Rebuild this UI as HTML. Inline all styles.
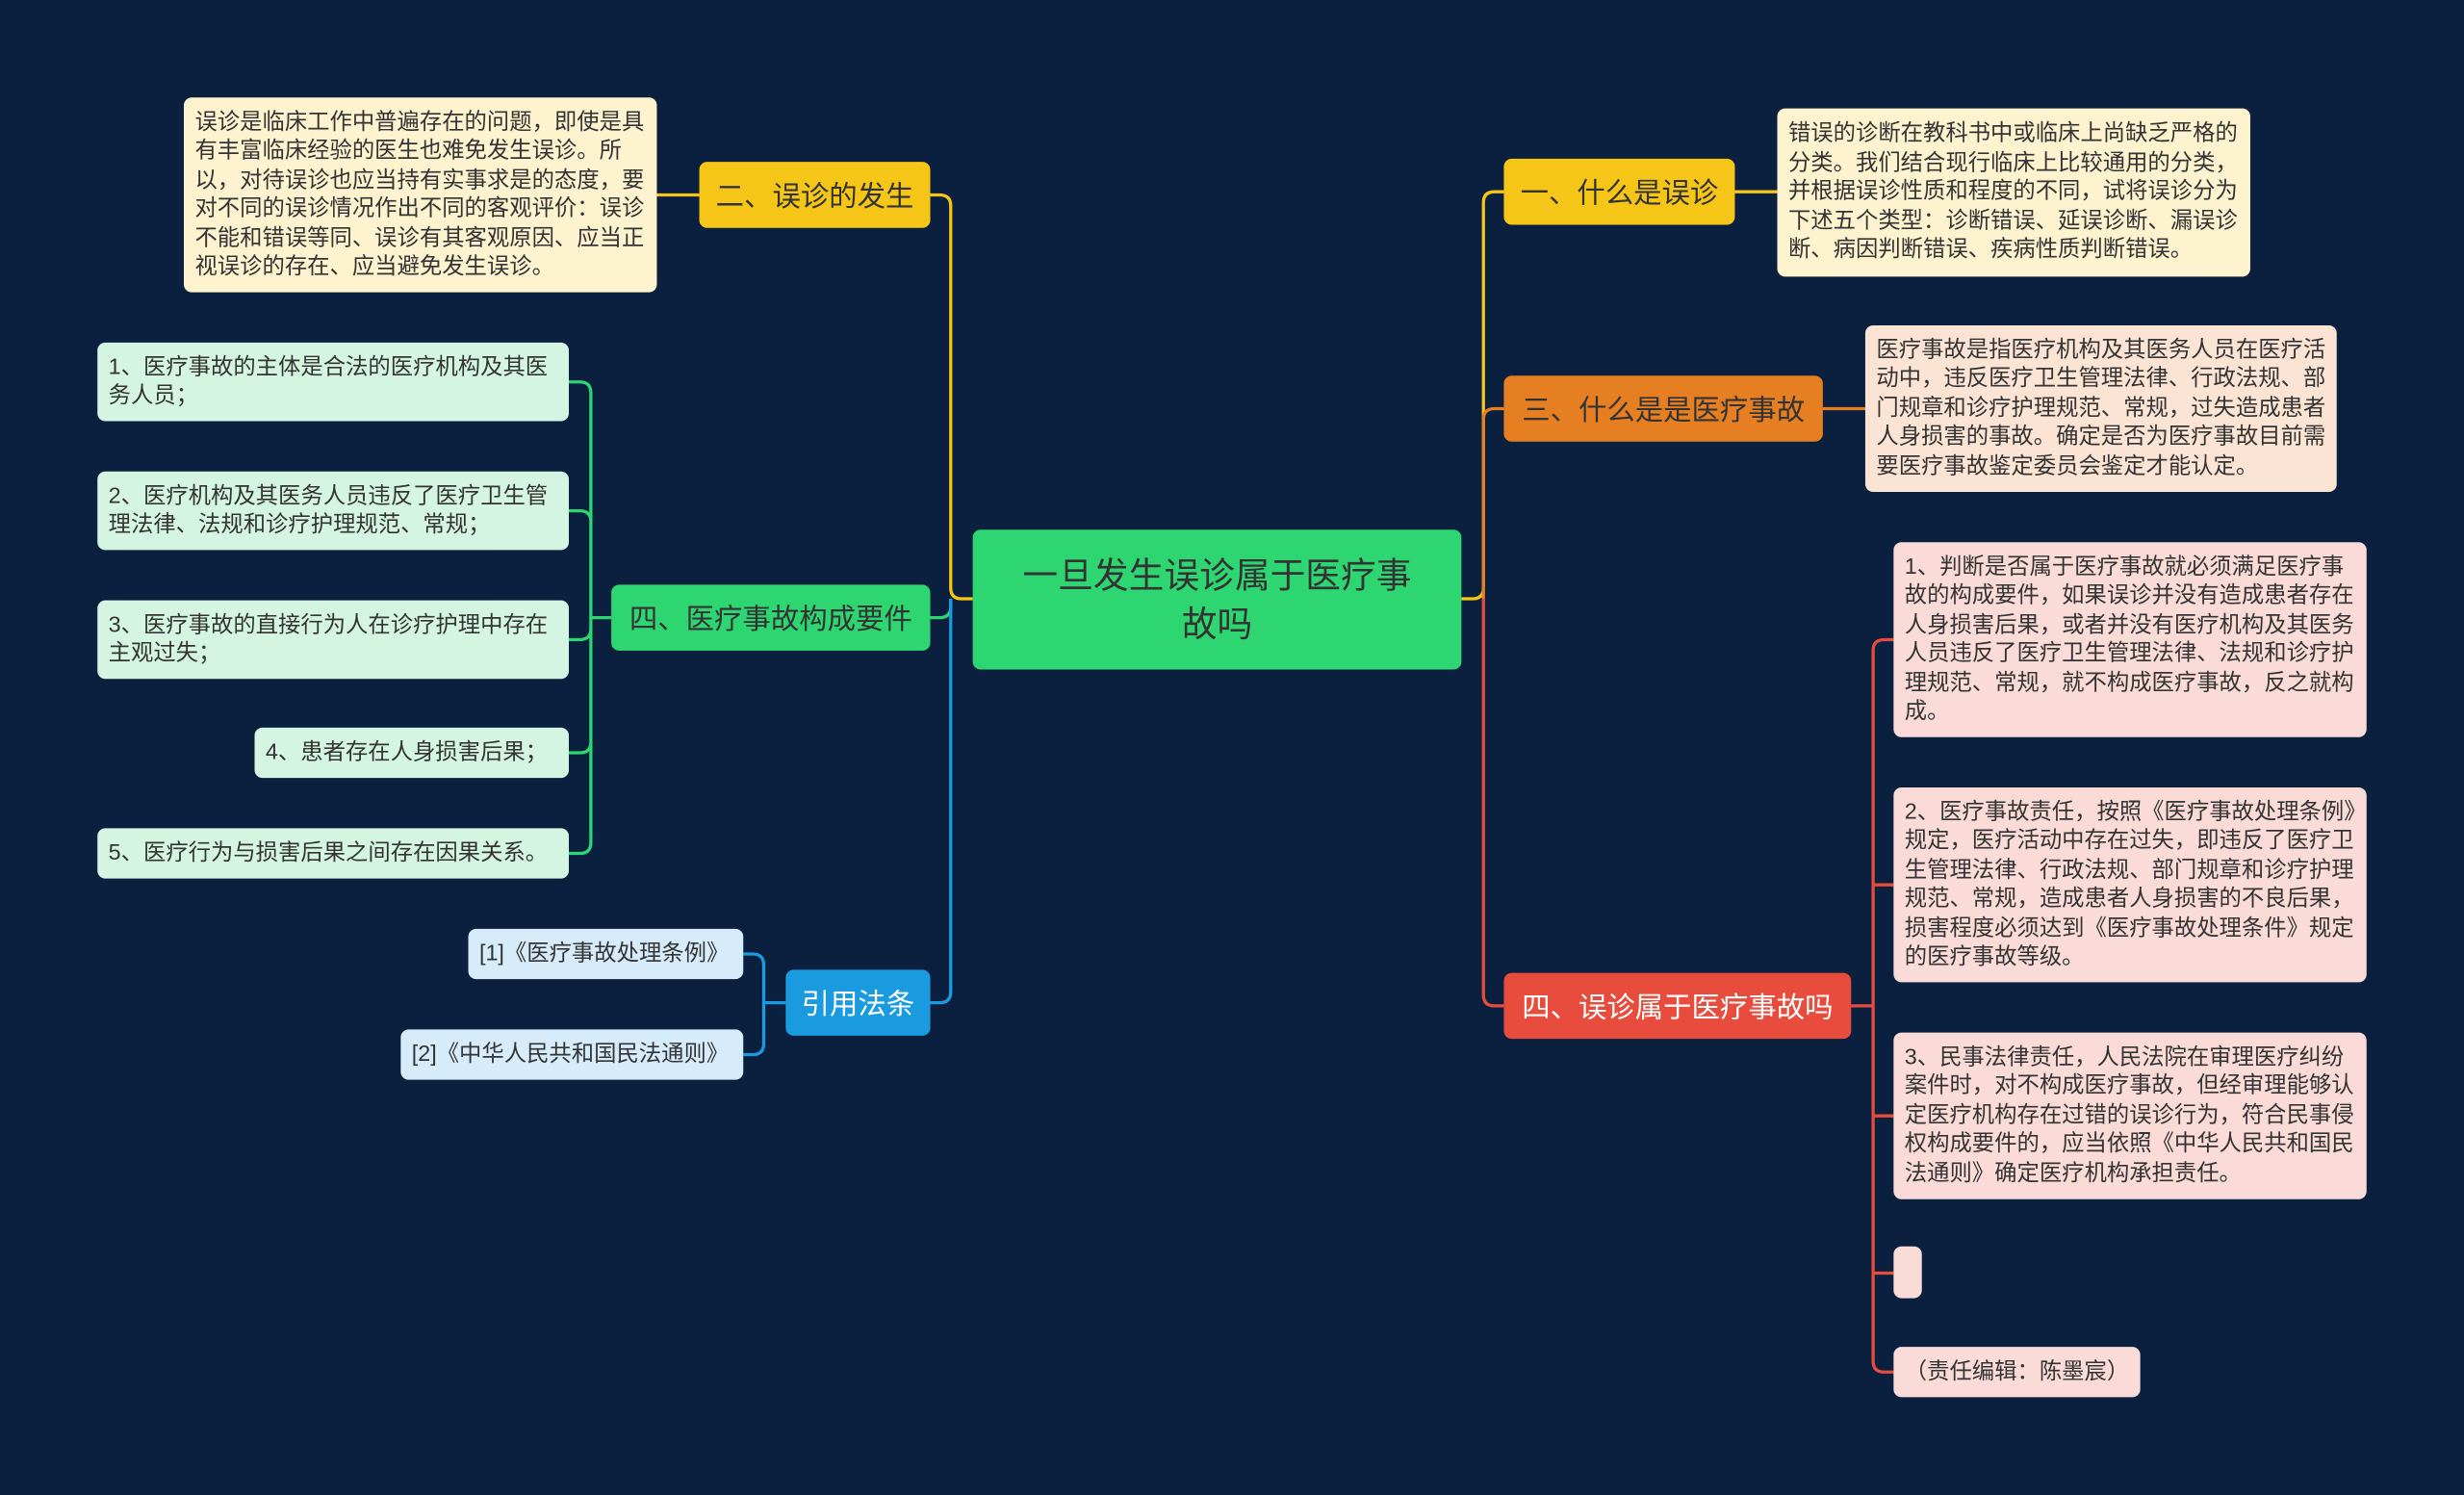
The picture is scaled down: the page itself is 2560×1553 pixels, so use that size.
<!DOCTYPE html>
<html><head><meta charset="utf-8"><style>
html,body{margin:0;padding:0;background:#0b1f3e;width:2560px;height:1552px;overflow:hidden}
#w{position:absolute;left:0;top:0;width:1568px;height:951px;transform:scale(1.63265);transform-origin:0 0;font-family:"Liberation Sans","Noto Sans CJK SC",sans-serif}
.n{position:absolute;box-sizing:border-box;border-radius:5px;display:flex;align-items:center}
.b{font-size:18px;color:#333;justify-content:center;white-space:nowrap}
.l{font-size:14.3px;line-height:18.5px;color:#333;padding:4px 7px;align-items:center}
svg{position:absolute;left:0;top:0}
</style></head><body><div id="w">
<svg width="1568" height="951" fill="none" stroke-width="2">
<path d="M619 381 H612 Q605 381 605 374 V131 Q605 124 598 124 H592" stroke="#f5c518"/>
<path d="M605 381 V386 Q605 393 598 393 H592" stroke="#2ed672"/>
<path d="M605 381 V631 Q605 638 598 638 H592" stroke="#1a9be0"/>
<path d="M445 124 H418" stroke="#f5c518"/>
<path d="M389 393 H376 M362 243 H369 Q376 243 376 250 V536 Q376 543 369 543 H362 M362 325 H369 Q376 325 376 332 M362 407 H369 Q376 407 376 400 M362 479 H369 Q376 479 376 472" stroke="#2ed672"/>
<path d="M500 638 H486 M473 607 H479 Q486 607 486 614 V664 Q486 671 479 671 H473" stroke="#1a9be0"/>
<path d="M930 381 H937 Q944 381 944 374 V129 Q944 122 951 122 H957" stroke="#f5c518"/>
<path d="M944 381 V267 Q944 260 951 260 H957" stroke="#e67e22"/>
<path d="M944 381 V633 Q944 640 951 640 H957" stroke="#e74c3c"/>
<path d="M1104 122 H1131" stroke="#f5c518"/>
<path d="M1160 260 H1187" stroke="#e67e22"/>
<path d="M1178 640 H1192 M1205 407 H1199 Q1192 407 1192 414 V866 Q1192 873 1199 873 H1205 M1205 563 H1192 M1205 710 H1192 M1205 810 H1192" stroke="#e74c3c"/>
</svg>
<div class="n b" style="left:619px;top:337px;width:311px;height:89px;background:#2ed672;font-size:22.5px;white-space:normal;text-align:center;line-height:31px;padding:0 24px">一旦发生误诊属于医疗事故吗</div>
<div class="n b" style="left:445px;top:103px;width:147px;height:42px;background:#f5c518">二、误诊的发生</div>
<div class="n l" style="left:117px;top:62px;width:301px;height:124px;background:#fdf3cf">误诊是临床工作中普遍存在的问题，即使是具有丰富临床经验的医生也难免发生误诊。所以，对待误诊也应当持有实事求是的态度，要对不同的误诊情况作出不同的客观评价：误诊不能和错误等同、误诊有其客观原因、应当正视误诊的存在、应当避免发生误诊。</div>
<div class="n b" style="left:389px;top:372px;width:203px;height:42px;background:#2ed672">四、医疗事故构成要件</div>
<div class="n l" style="left:62px;top:218px;width:300px;height:50px;background:#d5f5e3">1、医疗事故的主体是合法的医疗机构及其医务人员；</div>
<div class="n l" style="left:62px;top:300px;width:300px;height:50px;background:#d5f5e3">2、医疗机构及其医务人员违反了医疗卫生管理法律、法规和诊疗护理规范、常规；</div>
<div class="n l" style="left:62px;top:382px;width:300px;height:50px;background:#d5f5e3">3、医疗事故的直接行为人在诊疗护理中存在主观过失；</div>
<div class="n l" style="left:162px;top:463px;width:200px;height:32px;background:#d5f5e3">4、患者存在人身损害后果；</div>
<div class="n l" style="left:62px;top:527px;width:300px;height:32px;background:#d5f5e3">5、医疗行为与损害后果之间存在因果关系。</div>
<div class="n b" style="left:500px;top:617px;width:92px;height:42px;background:#1a9be0;color:#fff">引用法条</div>
<div class="n l" style="left:298px;top:591px;width:175px;height:32px;background:#d6ecfa">[1]《医疗事故处理条例》</div>
<div class="n l" style="left:255px;top:655px;width:218px;height:32px;background:#d6ecfa">[2]《中华人民共和国民法通则》</div>
<div class="n b" style="left:957px;top:101px;width:147px;height:42px;background:#f5c518">一、什么是误诊</div>
<div class="n l" style="left:1131px;top:69px;width:301px;height:107px;background:#fdf3cf">错误的诊断在教科书中或临床上尚缺乏严格的分类。我们结合现行临床上比较通用的分类，并根据误诊性质和程度的不同，试将误诊分为下述五个类型：诊断错误、延误诊断、漏误诊断、病因判断错误、疾病性质判断错误。</div>
<div class="n b" style="left:957px;top:239px;width:203px;height:42px;background:#e67e22">三、什么是是医疗事故</div>
<div class="n l" style="left:1187px;top:207px;width:300px;height:106px;background:#fce4d4">医疗事故是指医疗机构及其医务人员在医疗活动中，违反医疗卫生管理法律、行政法规、部门规章和诊疗护理规范、常规，过失造成患者人身损害的事故。确定是否为医疗事故目前需要医疗事故鉴定委员会鉴定才能认定。</div>
<div class="n b" style="left:957px;top:619px;width:221px;height:42px;background:#e74c3c;color:#fff">四、误诊属于医疗事故吗</div>
<div class="n l" style="left:1205px;top:345px;width:301px;height:124px;background:#fadbd8">1、判断是否属于医疗事故就必须满足医疗事故的构成要件，如果误诊并没有造成患者存在人身损害后果，或者并没有医疗机构及其医务人员违反了医疗卫生管理法律、法规和诊疗护理规范、常规，就不构成医疗事故，反之就构成。</div>
<div class="n l" style="left:1205px;top:501px;width:301px;height:124px;background:#fadbd8">2、医疗事故责任，按照《医疗事故处理条例》规定，医疗活动中存在过失，即违反了医疗卫生管理法律、行政法规、部门规章和诊疗护理规范、常规，造成患者人身损害的不良后果，损害程度必须达到《医疗事故处理条件》规定的医疗事故等级。</div>
<div class="n l" style="left:1205px;top:657px;width:301px;height:106px;background:#fadbd8">3、民事法律责任，人民法院在审理医疗纠纷案件时，对不构成医疗事故，但经审理能够认定医疗机构存在过错的误诊行为，符合民事侵权构成要件的，应当依照《中华人民共和国民法通则》确定医疗机构承担责任。</div>
<div class="n l" style="left:1205px;top:793px;width:18px;height:33px;background:#fadbd8"></div>
<div class="n l" style="left:1205px;top:857px;width:157px;height:32px;background:#fadbd8">（责任编辑：陈墨宸）</div>
</div></body></html>
